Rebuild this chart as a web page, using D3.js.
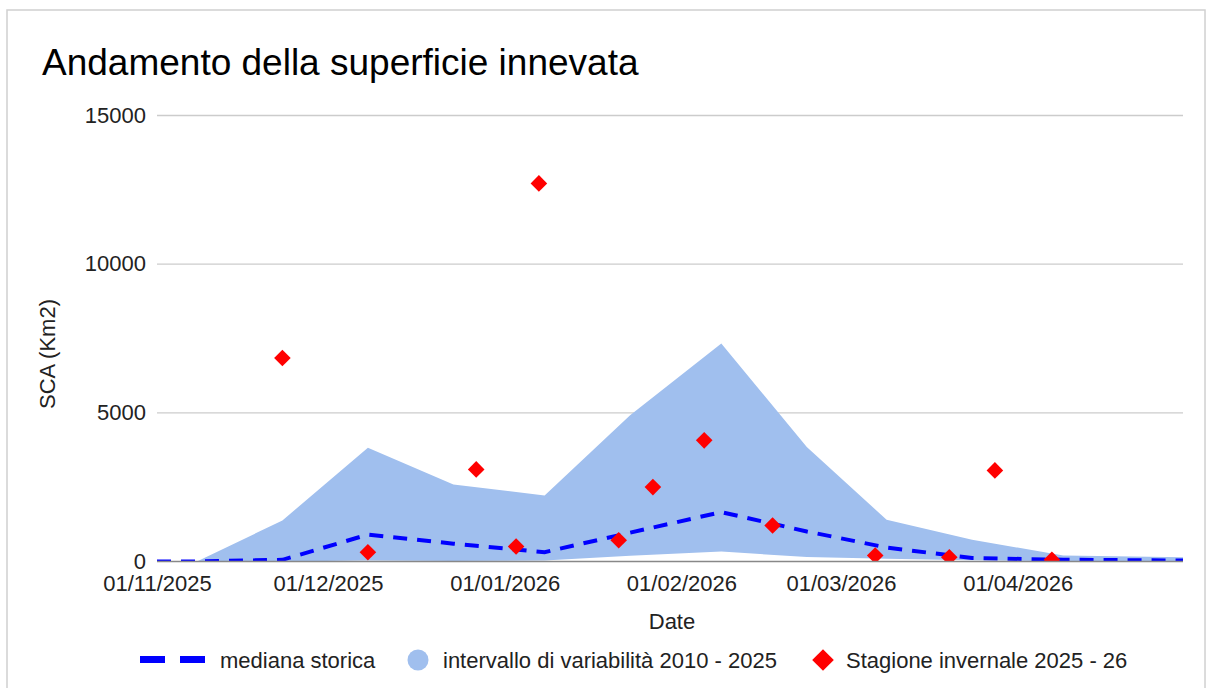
<!DOCTYPE html>
<html>
<head>
<meta charset="utf-8">
<script src="https://cdn.jsdelivr.net/npm/d3@7"></script>
<style>
    body { margin: 0; background: #fff; }
    svg { display: block; font-family: "Liberation Sans", Arial, sans-serif; }
</style>
</head>
<body>
<svg id="chart" width="1217" height="688"></svg>
<script>
// historical series (median + min/max band), one value per period
const periodDates = ['2025-11-01', '2025-11-08', '2025-11-23', '2025-12-08', '2025-12-23', '2026-01-08',
    '2026-01-23', '2026-02-08', '2026-02-23', '2026-03-09', '2026-03-24', '2026-04-09', '2026-04-24', '2026-04-30'];
const medianValues = [0, 0, 57, 905, 600, 313, 970, 1660, 1010, 470, 115, 60, 40, 30];
const rangeLow = [0, 0, 0, 30, 20, 30, 190, 337, 150, 90, 40, 10, 5, 5];
const rangeHigh = [0, 0, 1380, 3828, 2593, 2222, 4916, 7330, 3850, 1404, 731, 202, 160, 145];

// current season observations
const seasonDates = ['2025-11-23', '2025-12-08', '2025-12-27', '2026-01-03', '2026-01-07', '2026-01-21', '2026-01-27',
    '2026-02-05', '2026-02-17', '2026-03-07', '2026-03-20', '2026-03-28', '2026-04-07'];
const seasonValues = [6845, 313, 3098, 505, 12717, 715, 2502, 4074, 1212, 202, 145, 3064, 57];

const tickDates = ['2025-11-01', '2025-12-01', '2026-01-01', '2026-02-01', '2026-03-01', '2026-04-01'];
const yTicks = [0, 5000, 10000, 15000];
const legendLabels = ['mediana storica', 'intervallo di variabilità 2010 - 2025', 'Stagione invernale 2025 - 26'];

const parse = d3.utcParse('%Y-%m-%d');
const fmt = d3.utcFormat('%d/%m/%Y');

const plotLeft = 157, plotRight = 1183, plotTop = 115.5, plotBottom = 561.5;

const x = d3.scaleUtc()
    .domain([parse('2025-11-01'), parse('2026-04-30')])
    .range([plotLeft, plotRight]);
const y = d3.scaleLinear()
    .domain([0, 15000])
    .range([plotBottom, plotTop]);

const svg = d3.select('#chart');

// card frame
svg.append('rect')
    .attr('x', 7).attr('y', 10)
    .attr('width', 1198).attr('height', 700)
    .attr('fill', '#fff')
    .attr('stroke', '#d0d0d0')
    .attr('stroke-width', 1.5);

svg.append('text')
    .attr('x', 42).attr('y', 75)
    .attr('font-size', 37)
    .attr('fill', '#000')
    .text('Andamento della superficie innevata');

svg.append('clipPath').attr('id', 'plot-clip')
    .append('rect')
    .attr('x', plotLeft).attr('y', plotTop - 2)
    .attr('width', plotRight - plotLeft).attr('height', plotBottom - plotTop + 2);

// gridlines + y labels
svg.append('g')
    .selectAll('line')
    .data(yTicks.filter(v => v > 0))
    .enter()
    .append('line')
    .attr('x1', plotLeft).attr('x2', plotRight)
    .attr('y1', d => y(d)).attr('y2', d => y(d))
    .attr('stroke', '#cccccc')
    .attr('stroke-width', 1.3);

svg.append('g')
    .selectAll('text')
    .data(yTicks)
    .enter()
    .append('text')
    .attr('x', 146)
    .attr('y', d => y(d) + 7)
    .attr('text-anchor', 'end')
    .attr('font-size', 22)
    .attr('fill', '#222')
    .text(d => d);

const plot = svg.append('g').attr('clip-path', 'url(#plot-clip)');

const periods = periodDates.map((d, i) => ({
    date: parse(d), median: medianValues[i], low: rangeLow[i], high: rangeHigh[i]
}));

plot.append('path')
    .datum(periods)
    .attr('fill', '#a0bfee')
    .attr('d', d3.area()
        .x(d => x(d.date))
        .y0(d => y(d.low))
        .y1(d => y(d.high)));

// baseline
svg.append('line')
    .attr('x1', plotLeft).attr('x2', plotRight)
    .attr('y1', y(0)).attr('y2', y(0))
    .attr('stroke', '#888')
    .attr('stroke-width', 1.5);

plot.append('path')
    .datum(periods)
    .attr('fill', 'none')
    .attr('stroke', '#0000ff')
    .attr('stroke-width', 4)
    .attr('stroke-dasharray', '14,10')
    .attr('d', d3.line()
        .x(d => x(d.date))
        .y(d => y(d.median)));

const diamond = r => `M0,${-r}L${r},0L0,${r}L${-r},0Z`;

plot.append('g')
    .selectAll('path')
    .data(seasonDates.map((d, i) => ({ date: parse(d), value: seasonValues[i] })))
    .enter()
    .append('path')
    .attr('transform', d => `translate(${x(d.date)},${y(d.value)})`)
    .attr('d', diamond(8.3))
    .attr('fill', '#ff0000');

// x axis
const xAxis = svg.append('g')
    .attr('transform', `translate(0,${plotBottom})`)
    .call(d3.axisBottom(x)
        .tickValues(tickDates.map(parse))
        .tickFormat(fmt)
        .tickSize(0)
        .tickPadding(14));
xAxis.select('.domain').remove();
xAxis.selectAll('text')
    .attr('font-size', 22)
    .attr('font-family', '"Liberation Sans", Arial, sans-serif')
    .attr('fill', '#222');

// axis titles
svg.append('text')
    .attr('x', 672).attr('y', 629)
    .attr('text-anchor', 'middle')
    .attr('font-size', 22)
    .attr('fill', '#222')
    .text('Date');

svg.append('text')
    .attr('transform', 'translate(55,354) rotate(-90)')
    .attr('text-anchor', 'middle')
    .attr('font-size', 22)
    .attr('fill', '#222')
    .text('SCA (Km2)');

// legend
const legend = svg.append('g');
legend.append('rect').attr('x', 140).attr('y', 656).attr('width', 25).attr('height', 7).attr('fill', '#0000ff');
legend.append('rect').attr('x', 180).attr('y', 656).attr('width', 25).attr('height', 7).attr('fill', '#0000ff');
legend.append('circle').attr('cx', 418).attr('cy', 660).attr('r', 10.5).attr('fill', '#a0bfee');
legend.append('path').attr('transform', 'translate(823,660)').attr('d', diamond(10.8)).attr('fill', '#ff0000');

legend.selectAll('text')
    .data(legendLabels)
    .enter()
    .append('text')
    .attr('x', (d, i) => [220, 443, 846][i])
    .attr('y', 668)
    .attr('font-size', 22)
    .attr('fill', '#222')
    .text(d => d);
</script>
</body>
</html>
